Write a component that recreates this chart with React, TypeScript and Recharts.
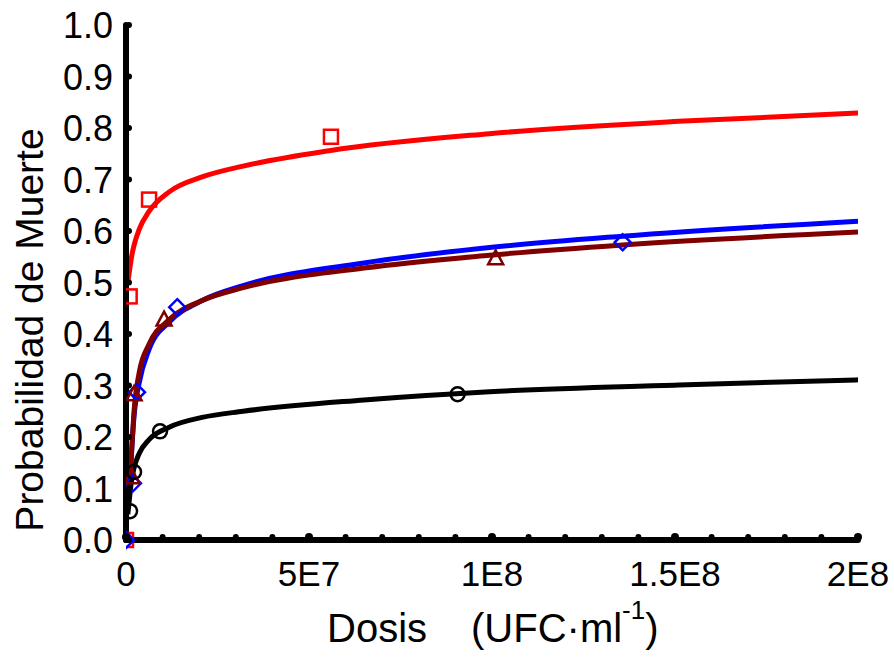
import React from 'react';
import { ComposedChart, Line, Scatter, XAxis, YAxis } from 'recharts';

// fitted curves (dose in UFC/ml, probability)
const redDose = [0.5e6, 1.1e6, 1.6e6, 2.2e6, 3.6e6, 6.3e6, 1.18e7, 2.08e7, 3.2e7, 5.55e7, 9.93e7, 1.51e8, 2e8];
const redFit = [0.5, 0.53, 0.553, 0.572, 0.603, 0.638, 0.676, 0.705, 0.726, 0.756, 0.789, 0.813, 0.829];

const midDose = [1.1e6, 1.6e6, 2.2e6, 3.6e6, 6.3e6, 1.18e7, 2.08e7, 3.2e7, 6.5e7, 9.93e7, 1.357e8, 2e8];
const blueFit = [0.12, 0.18, 0.24, 0.305, 0.37, 0.423, 0.465, 0.494, 0.538, 0.568, 0.59, 0.619];
const maroonFit = [0.12, 0.18, 0.25, 0.325, 0.38, 0.428, 0.465, 0.49, 0.528, 0.553, 0.573, 0.598];

const blackDose = [0.5e6, 0.8e6, 1.4e6, 2.2e6, 3.6e6, 6.3e6, 1.18e7, 2.08e7, 3.2e7, 6.5e7, 9.93e7, 1.51e8, 2e8];
const blackFit = [0.05, 0.07, 0.11, 0.14, 0.168, 0.195, 0.219, 0.238, 0.25, 0.272, 0.288, 0.301, 0.311];

// observed points
const redObsX = [0, 1.0e6, 6.3e6, 5.6e7];
const redObsY = [0, 0.473, 0.661, 0.783];
const blueObsX = [0, 1.9e6, 3e6, 1.4e7, 1.357e8];
const blueObsY = [0, 0.11, 0.287, 0.452, 0.578];
const maroonObsX = [1.6e6, 2.2e6, 1.04e7, 1.01e8];
const maroonObsY = [0.122, 0.283, 0.428, 0.547];
const blackObsX = [1.1e6, 2.2e6, 9.3e6, 9.06e7];
const blackObsY = [0.056, 0.132, 0.211, 0.283];

const xTicks = [0, 1e7, 2e7, 3e7, 4e7, 5e7, 6e7, 7e7, 8e7, 9e7, 1e8, 1.1e8, 1.2e8, 1.3e8, 1.4e8, 1.5e8, 1.6e8, 1.7e8, 1.8e8, 1.9e8, 2e8];
const xTickLabels = ['0', '', '', '', '', '5E7', '', '', '', '', '1E8', '', '', '', '', '1.5E8', '', '', '', '', '2E8'];
const yTicks = [0, 0.1, 0.2, 0.3, 0.4, 0.5, 0.6, 0.7, 0.8, 0.9, 1.0];

const zip = (xs: number[], ys: number[]) => xs.map((x, i) => ({ x, y: ys[i] }));

const FONT = '"Liberation Sans", Arial, sans-serif';

const XTick = (props: any) => {
  const { x, y, payload } = props;
  const label = xTickLabels[xTicks.indexOf(payload.value)];
  const major = label !== '';
  return (
    <g>
      <circle cx={x} cy={y - 3} r={major ? 4 : 3} fill="#000" />
      {major && (
        <text x={x} y={y + 46} textAnchor="middle" fontSize={35} fontFamily={FONT} fill="#000">
          {label}
        </text>
      )}
    </g>
  );
};

const YTick = (props: any) => {
  const { x, y, payload } = props;
  return (
    <g>
      <circle cx={x + 3} cy={y} r={3} fill="#000" />
      <text x={x - 13} y={y + 13} textAnchor="end" fontSize={36} fontFamily={FONT} fill="#000">
        {payload.value.toFixed(1)}
      </text>
    </g>
  );
};

const square = (color: string) => (p: any) => (
  <rect x={p.cx - 7} y={p.cy - 7} width={14} height={14} fill="none" stroke={color} strokeWidth={2.5} />
);
const diamond = (color: string) => (p: any) => (
  <path d={`M${p.cx},${p.cy - 8} L${p.cx + 8},${p.cy} L${p.cx},${p.cy + 8} L${p.cx - 8},${p.cy} Z`} fill="none" stroke={color} strokeWidth={2.5} />
);
const triangle = (color: string) => (p: any) => (
  <path d={`M${p.cx},${p.cy - 8} L${p.cx + 7.5},${p.cy + 6} L${p.cx - 7.5},${p.cy + 6} Z`} fill="none" stroke={color} strokeWidth={2.5} />
);
const circle = (color: string) => (p: any) => (
  <circle cx={p.cx} cy={p.cy} r={7} fill="none" stroke={color} strokeWidth={2.5} />
);

export default function App() {
  return (
    <div style={{ position: 'absolute', left: 0, top: 0, background: '#fff' }}>
      <ComposedChart width={894} height={662} margin={{ top: 25, right: 36, bottom: 0, left: 0 }}>
        <XAxis
          type="number"
          dataKey="x"
          domain={[0, 2e8]}
          ticks={xTicks}
          interval={0}
          height={122}
          tickSize={0}
          tickMargin={0}
          tickLine={false}
          tick={<XTick />}
          axisLine={{ stroke: '#000', strokeWidth: 6, strokeLinecap: 'round' }}
          allowDataOverflow
          label={() => (
            <text x={327} y={642} fontSize={40} fontFamily={FONT} fill="#000">
              <tspan>Dosis</tspan>
              <tspan dx={44}>(UFC·ml</tspan>
              <tspan dy={-23} fontSize={26}>-1</tspan>
              <tspan dy={23}>)</tspan>
            </text>
          )}
        />
        <YAxis
          type="number"
          domain={[0, 1]}
          ticks={yTicks}
          interval={0}
          width={126}
          tickSize={0}
          tickMargin={0}
          tickLine={false}
          tick={<YTick />}
          axisLine={{ stroke: '#000', strokeWidth: 6, strokeLinecap: 'round' }}
          label={() => (
            <text x={43} y={330} transform="rotate(-90, 43, 330)" textAnchor="middle" fontSize={39} fontFamily={FONT} fill="#000">
              Probabilidad de Muerte
            </text>
          )}
        />
        <Line data={zip(blackDose, blackFit)} dataKey="y" type="monotone" stroke="#000" strokeWidth={5} dot={false} isAnimationActive={false} />
        <Line data={zip(redDose, redFit)} dataKey="y" type="monotone" stroke="#ff0000" strokeWidth={5} dot={false} isAnimationActive={false} />
        <Line data={zip(midDose, blueFit)} dataKey="y" type="monotone" stroke="#0000ff" strokeWidth={5} dot={false} isAnimationActive={false} />
        <Line data={zip(midDose, maroonFit)} dataKey="y" type="monotone" stroke="#800000" strokeWidth={5} dot={false} isAnimationActive={false} />
        <Scatter data={zip(redObsX, redObsY)} dataKey="y" shape={square('#ff0000')} isAnimationActive={false} />
        <Scatter data={zip(blueObsX, blueObsY)} dataKey="y" shape={diamond('#0000ff')} isAnimationActive={false} />
        <Scatter data={zip(maroonObsX, maroonObsY)} dataKey="y" shape={triangle('#800000')} isAnimationActive={false} />
        <Scatter data={zip(blackObsX, blackObsY)} dataKey="y" shape={circle('#000')} isAnimationActive={false} />
      </ComposedChart>
    </div>
  );
}
